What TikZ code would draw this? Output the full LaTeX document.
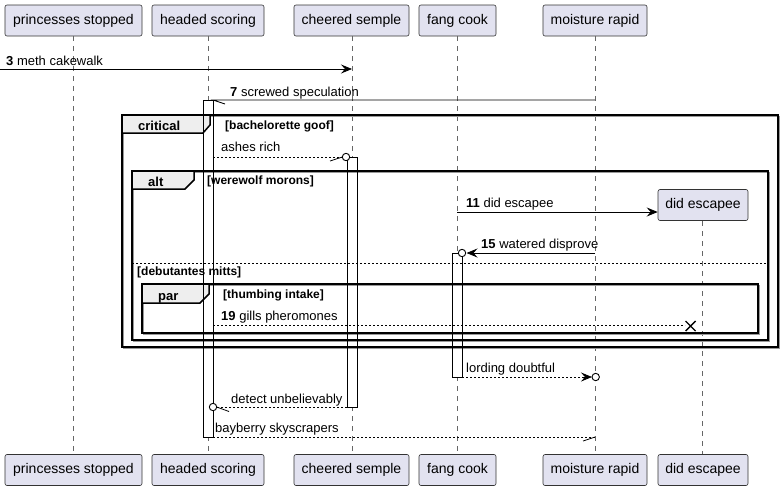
\documentclass[tikz,border=0pt]{standalone}
\usepackage{fontspec}
\setmainfont{Liberation Sans}
\usetikzlibrary{arrows.meta,calc}
\definecolor{partfill}{HTML}{E2E2F0}
\definecolor{tabfill}{HTML}{EEEEEE}
\tikzset{
  part/.style={draw=black!80, line width=0.6pt, fill=partfill, rounded corners=2pt, inner sep=0pt,
    minimum height=31pt, font=\fontsize{14}{16}\selectfont, text height=10pt, text depth=3pt},
  lifeline/.style={draw=black!60, line width=0.6pt, dash pattern=on 5pt off 5pt},
  msg/.style={line width=0.8pt},
  dmsg/.style={line width=0.8pt, dash pattern=on 2pt off 2pt},
  tip/.style={-{Stealth[length=11pt,width=9pt,inset=4pt]}},
  lbl/.style={anchor=base west, inner sep=0pt, font=\fontsize{13}{15}\selectfont},
  cond/.style={anchor=base west, inner sep=0pt, font=\fontsize{12}{14}\selectfont\bfseries},
  kind/.style={anchor=base west, inner sep=0pt, font=\fontsize{13}{15}\selectfont\bfseries},
  actbar/.style={line width=0.8pt},
  frameline/.style={line width=1.5pt},
  frameshadow/.style={draw=black!40, line width=1.5pt},
  circ/.style={line width=0.9pt, fill=white},
}
\begin{document}
\begin{tikzpicture}[x=1pt,y=-1pt]
\useasboundingbox (0,0) rectangle (783,491);
% participants
\node[part, minimum width=137pt] (ps) at (73.5,20.5) {princesses stopped};
\node[part, minimum width=112pt] (hs) at (208,20.5) {headed scoring};
\node[part, minimum width=115pt] (cs) at (351.5,20.5) {cheered semple};
\node[part, minimum width=77pt] (fc) at (457.5,20.5) {fang cook};
\node[part, minimum width=104pt] (mr) at (595,20.5) {moisture rapid};
\node[part, minimum width=90pt] (de) at (703,205) {did escapee};
\node[part, minimum width=137pt] (psb) at (73.5,470) {princesses stopped};
\node[part, minimum width=112pt] (hsb) at (208,470) {headed scoring};
\node[part, minimum width=115pt] (csb) at (351.5,470) {cheered semple};
\node[part, minimum width=77pt] (fcb) at (457.5,470) {fang cook};
\node[part, minimum width=104pt] (mrb) at (595,470) {moisture rapid};
\node[part, minimum width=90pt] (deb) at (703,470) {did escapee};
% lifelines
\draw[lifeline] (73,36) -- (73,454);
\draw[lifeline] (208,36) -- (208,454);
\draw[lifeline] (352,36) -- (352,454);
\draw[lifeline] (457,36) -- (457,454);
\draw[lifeline] (595,36) -- (595,454);
\draw[lifeline] (702,221) -- (702,454);
% activation fills
\fill[white] (203,100) rectangle (213,437);
\fill[white] (347,157) rectangle (357,407);
\fill[white] (452,253) rectangle (462,377);
% frames: shadows
\draw[frameshadow] (123.5,116.5) rectangle (779.5,348.5);
\draw[frameshadow] (133.5,172.5) rectangle (769.5,341.5);
\draw[frameshadow] (143.5,285.5) rectangle (759.5,334.5);
% critical
\draw[frameline] (122,115) rectangle (778,347);
\filldraw[frameline, fill=tabfill] (122,115) -- (210,115) -- (210,125) -- (203,133) -- (122,133) -- cycle;
\node[kind] (kcrit) at (138,130) {critical};
\node[cond] (ccrit) at (225,129) {[bachelorette goof]};
% alt
\draw[frameline] (132,171) rectangle (768,340);
\filldraw[frameline, fill=tabfill] (132,171) -- (194,171) -- (194,180) -- (185,189) -- (132,189) -- cycle;
\node[kind] (kalt) at (148,186) {alt};
\node[cond] (calt) at (207,184) {[werewolf morons]};
\draw[line width=0.8pt, dash pattern=on 2pt off 2pt] (132,263) -- (768,263);
\node[cond] (celse) at (137,275) {[debutantes mitts]};
% par
\draw[frameline] (142,284) rectangle (758,333);
\filldraw[frameline, fill=tabfill] (142,284) -- (209,284) -- (209,294) -- (200,303) -- (142,303) -- cycle;
\node[kind] (kpar) at (158,300) {par};
\node[cond] (cpar) at (223,298) {[thumbing intake]};
% activation outlines
\draw[actbar] (203,100) rectangle (213,437);
\draw[actbar] (347,157) rectangle (357,407);
\draw[actbar] (452,253) rectangle (462,377);
% message 3
\coordinate (m3s) at (0,69);
\coordinate (m3e) at (352,69);
\draw[msg, tip] (m3s) -- (m3e);
\node[lbl] (l3) at (6,65) {\textbf{3} meth cakewalk};
% message 7
\coordinate (m7s) at (595,100);
\coordinate (m7e) at (213,100);
\coordinate (m7h) at (225,104);
\draw[msg] (m7s) -- (m7e) -- (m7h);
\node[lbl] (l7) at (230,96) {\textbf{7} screwed speculation};
% ashes rich
\coordinate (arS) at (213,157);
\coordinate (arE) at (342.3,157);
\coordinate (arC) at (346,157);
\coordinate (arH) at (330,161);
\draw[dmsg] (arS) -- (arE);
\draw[msg] (arH) -- (arE);
\draw[circ] (arC) circle (3.7pt);
\node[lbl] (lar) at (221,151) {ashes rich};
% message 11
\coordinate (m11s) at (457,212);
\coordinate (m11e) at (de.west |- m11s);
\draw[msg, tip] (m11s) -- (m11e);
\node[lbl] (l11) at (466,207) {\textbf{11} did escapee};
% message 15
\coordinate (m15s) at (595,253);
\coordinate (m15e) at (466.5,253);
\coordinate (m15c) at (462,253);
\draw[msg, tip] (m15s) -- (m15e);
\draw[circ] (m15c) circle (3.7pt);
\node[lbl] (l15) at (481,248) {\textbf{15} watered disprove};
% message 19
\coordinate (m19s) at (213,325.5);
\coordinate (m19e) at (685,325.5);
\coordinate (m19x) at (690.5,326);
\draw[dmsg] (m19s) -- (m19e);
\draw[line width=1.4pt] ($(m19x)+(-5,-5)$) -- ($(m19x)+(5,5)$) ($(m19x)+(-5,5)$) -- ($(m19x)+(5,-5)$);
\node[lbl] (l19) at (221,320.5) {\textbf{19} gills pheromones};
% lording doubtful
\coordinate (ldS) at (462,377);
\coordinate (ldM) at (582,377);
\coordinate (ldE) at (592,377);
\coordinate (ldC) at (595.7,377);
\draw[dmsg] (ldS) -- (ldM);
\draw[msg, tip] (ldM) -- (ldE);
\draw[circ] (ldC) circle (3.7pt);
\node[lbl] (lld) at (466,372) {lording doubtful};
% detect unbelievably
\coordinate (duS) at (347,407);
\coordinate (duE) at (216.7,407);
\coordinate (duC) at (213,407);
\coordinate (duH) at (229,411.5);
\draw[dmsg] (duS) -- (duE);
\draw[msg] (duE) -- (duH);
\draw[circ] (duC) circle (3.7pt);
\node[lbl] (ldu) at (231,403) {detect unbelievably};
% bayberry skyscrapers
\coordinate (bsS) at (213,437);
\coordinate (bsE) at (595,437);
\coordinate (bsH) at (583,441);
\draw[dmsg] (bsS) -- (bsE);
\draw[msg] (bsH) -- (bsE);
\node[lbl] (lbs) at (215,432) {bayberry skyscrapers};
\end{tikzpicture}
\end{document}
